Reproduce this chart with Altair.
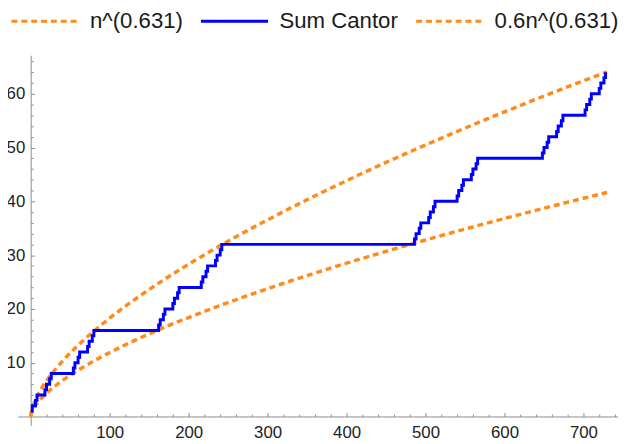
import altair as alt
import pandas as pd

# Step function "Sum Cantor": n where count increments, and count value
cantor_n = [0, 2, 6, 8, 18, 20, 24, 26, 54, 56, 60, 62, 72, 74, 78, 80,
            162, 164, 168, 170, 180, 182, 186, 188, 216, 218, 222, 224, 234, 236, 240, 242,
            486, 488, 492, 494, 504, 506, 510, 512, 540, 542, 546, 548, 558, 560, 564, 566,
            648, 650, 654, 656, 666, 668, 672, 674, 702, 704, 708, 710, 720, 722, 726, 728]
cantor_v = [1, 2, 3, 4, 5, 6, 7, 8, 9, 10, 11, 12, 13, 14, 15, 16,
            17, 18, 19, 20, 21, 22, 23, 24, 25, 26, 27, 28, 29, 30, 31, 32,
            33, 34, 35, 36, 37, 38, 39, 40, 41, 42, 43, 44, 45, 46, 47, 48,
            49, 50, 51, 52, 53, 54, 55, 56, 57, 58, 59, 60, 61, 62, 63, 64]

# dashed reference curves
curve_n = [0, 1, 2, 3, 5, 10, 20, 30, 40, 60, 80, 100, 150, 200, 250, 300,
           350, 400, 450, 500, 550, 600, 650, 700, 730]
upper_v = [0, 1, 1.55, 2.0, 2.76, 4.28, 6.62, 8.55, 10.25, 13.24, 15.88, 18.28,
           23.61, 28.31, 32.60, 36.56, 40.30, 43.84, 47.23, 50.48, 53.61, 56.63,
           59.57, 62.42, 64.07]
lower_v = [0, 0.65, 1.01, 1.30, 1.79, 2.78, 4.30, 5.56, 6.67, 8.61, 10.32, 11.88,
           15.35, 18.40, 21.19, 23.76, 26.20, 28.50, 30.70, 32.81, 34.85, 36.81,
           38.72, 40.57, 41.65]

series_names = ["n^(0.631)", "Sum Cantor", "0.6n^(0.631)"]
series_colors = ["#ff8c1a", "#0000ff", "#ff8c1a"]
series_dash = [[6, 4], [1, 0], [6, 4]]

x_major = [100, 200, 300, 400, 500, 600, 700]
x_minor = [20, 40, 60, 80, 120, 140, 160, 180, 220, 240, 260, 280, 320, 340, 360, 380,
           420, 440, 460, 480, 520, 540, 560, 580, 620, 640, 660, 680, 720, 740]
y_major = [10, 20, 30, 40, 50, 60]
y_minor = [2, 4, 6, 8, 12, 14, 16, 18, 22, 24, 26, 28, 32, 34, 36, 38, 42, 44, 46, 48,
           52, 54, 56, 58, 62, 64, 66]

rows = []
for n, v in zip(curve_n, upper_v):
    rows.append({"series": series_names[0], "n": n, "v": v})
for n, v in zip(cantor_n, cantor_v):
    rows.append({"series": series_names[1], "n": n, "v": v})
for n, v in zip(curve_n, lower_v):
    rows.append({"series": series_names[2], "n": n, "v": v})
df = pd.DataFrame(rows)

W, H = 608, 375
xs = alt.Scale(domain=[-16.25, 743.75], nice=False, zero=False)
ys = alt.Scale(domain=[-1.65, 67.16], nice=False, zero=False)

FONT = "Liberation Sans"
AX = "#8c8c8c"

legend = alt.Legend(orient="none", legendX=-8, legendY=-70, direction="horizontal",
                    columns=3, title=None, symbolType="stroke", symbolSize=4624,
                    symbolStrokeWidth=3, labelFontSize=22.5, labelFont=FONT,
                    labelColor="#1a1a1a", columnPadding=11, labelOffset=10, padding=0)
color = alt.Color("series:N", scale=alt.Scale(domain=series_names, range=series_colors),
                  legend=legend, sort=series_names)
dash = alt.StrokeDash("series:N", scale=alt.Scale(domain=series_names, range=series_dash),
                      legend=legend, sort=series_names)

base = alt.Chart(df)

x_lab_axis = alt.Axis(orient="bottom", offset=-9, values=x_major, ticks=False, tickSize=0,
                      labelPadding=8, domain=True, domainColor=AX, domainWidth=1,
                      grid=False, title=None, labelFontSize=17, labelFont=FONT,
                      labelColor="#222222")
y_lab_axis = alt.Axis(orient="left", offset=-13, values=y_major, ticks=False, tickSize=0,
                      labelPadding=6, domain=True, domainColor=AX, domainWidth=1,
                      grid=False, title=None, labelFontSize=17, labelFont=FONT,
                      labelColor="#222222")
x_maj_axis = alt.Axis(orient="top", offset=-366, values=x_major, ticks=True, tickSize=4,
                      tickColor=AX, labels=False, domain=False, grid=False, title=None)
y_maj_axis = alt.Axis(orient="right", offset=-595, values=y_major, ticks=True, tickSize=4,
                      tickColor=AX, labels=False, domain=False, grid=False, title=None)
x_min_axis = alt.Axis(orient="top", offset=-366, values=x_minor, ticks=True, tickSize=2.5,
                      tickColor=AX, labels=False, domain=False, grid=False, title=None)
y_min_axis = alt.Axis(orient="right", offset=-595, values=y_minor, ticks=True, tickSize=2.5,
                      tickColor=AX, labels=False, domain=False, grid=False, title=None)

orange = base.transform_filter(
    alt.FieldOneOfPredicate(field="series", oneOf=[series_names[0], series_names[2]])
).mark_line(strokeWidth=3.5, interpolate="monotone", strokeCap="butt").encode(
    x=alt.X("n:Q", scale=xs, axis=x_lab_axis),
    y=alt.Y("v:Q", scale=ys, axis=y_lab_axis),
    color=color, strokeDash=dash, detail="series:N",
)

blue = base.transform_filter(
    alt.FieldEqualPredicate(field="series", equal=series_names[1])
).mark_line(strokeWidth=3, interpolate="step-after").encode(
    x=alt.X("n:Q", scale=xs, axis=x_maj_axis),
    y=alt.Y("v:Q", scale=ys, axis=y_maj_axis),
    color=color, strokeDash=dash,
)

ghost = base.mark_point(opacity=0).encode(
    x=alt.X("n:Q", scale=xs, axis=x_min_axis),
    y=alt.Y("v:Q", scale=ys, axis=y_min_axis),
)

chart = alt.layer(orange, blue, ghost).resolve_axis(
    x="independent", y="independent"
).properties(
    width=W, height=H,
    autosize=alt.AutoSizeParams(type="none"),
    padding={"left": 10, "top": 45, "right": 0, "bottom": 16},
).configure_view(stroke=None)

chart.save("out.html", embed_options={"renderer": "svg", "actions": False})
